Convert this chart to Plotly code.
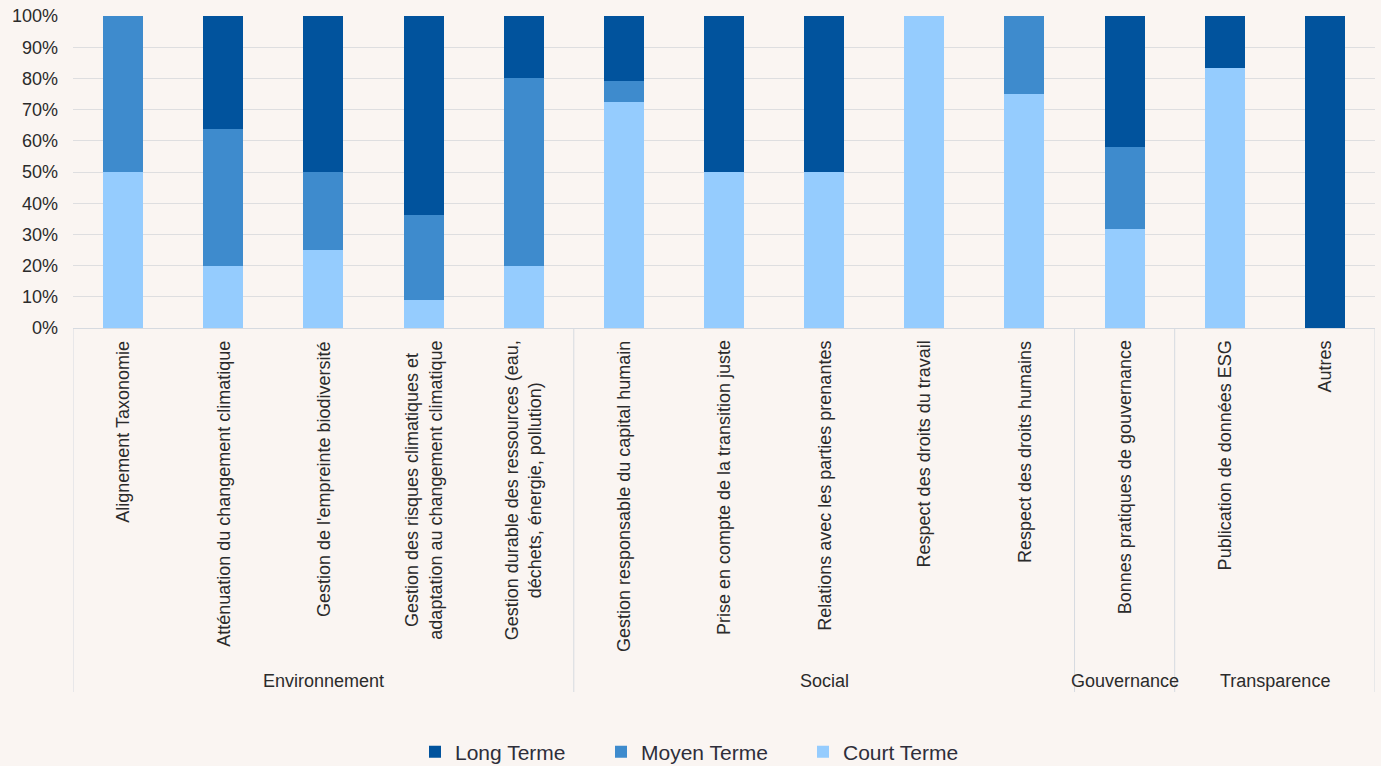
import plotly.graph_objects as go

# Categories, grouped by pillar
categories = [
    "Alignement Taxonomie",
    "Atténuation du changement climatique",
    "Gestion de l'empreinte biodiversité",
    "Gestion des risques climatiques et<br>adaptation au changement climatique",
    "Gestion durable des ressources (eau,<br>déchets, énergie, pollution)",
    "Gestion responsable du capital humain",
    "Prise en compte de la transition juste",
    "Relations avec les parties prenantes",
    "Respect des droits du travail",
    "Respect des droits humains",
    "Bonnes pratiques de gouvernance",
    "Publication de données ESG",
    "Autres",
]
groups = ["Environnement", "Social", "Gouvernance", "Transparence"]
group_sizes = [5, 5, 1, 2]

# Share of answers per horizon (%)
court_terme = [50, 20, 25, 9.09, 20, 72.41, 50, 50, 100, 75, 31.58, 83.33, 0]
moyen_terme = [50, 43.64, 25, 27.27, 60, 6.90, 0, 0, 0, 25, 26.32, 0, 0]
long_terme = [0, 36.36, 50, 63.64, 20, 20.69, 50, 50, 0, 0, 42.11, 16.67, 100]

series = [
    ("Court Terme", court_terme, "#95CCFE", "legend3"),
    ("Moyen Terme", moyen_terme, "#3E8BCD", "legend2"),
    ("Long Terme", long_terme, "#01539D", "legend"),
]

BG = "#FAF5F2"
TXT = "#2B2B2B"
LINE = "#D6DAE0"
FONT = "Liberation Sans, Arial, sans-serif"

x_idx = list(range(len(categories)))

fig = go.Figure()
for name, vals, color, leg in series:
    fig.add_trace(go.Bar(
        x=x_idx, y=vals, name=name, legend=leg, showlegend=True,
        marker=dict(color=color, line=dict(width=0)),
        hovertemplate="%{y:.1f}%<extra>" + name + "</extra>",
    ))

# Rotated category labels under each bar
annotations = []
for i, lab in enumerate(categories):
    annotations.append(dict(
        x=i, xref="x", y=-0.034, yref="paper",
        text=lab, textangle=-90, showarrow=False,
        xanchor="center", yanchor="top", align="center",
        font=dict(family=FONT, size=18, color=TXT),
    ))

# Group labels and dividers
shapes = []
start = 0
bounds = [-0.5]
for g, n in zip(groups, group_sizes):
    mid = start + (n - 1) / 2
    annotations.append(dict(
        x=mid, xref="x", y=-1.131, yref="paper",
        text=g, showarrow=False, xanchor="center", yanchor="middle",
        font=dict(family=FONT, size=18, color=TXT),
    ))
    start += n
    bounds.append(start - 0.5)
for b in bounds:
    shapes.append(dict(
        type="line", xref="x", yref="paper", x0=b, x1=b, y0=0, y1=-1.1667,
        line=dict(color=LINE, width=1), layer="below",
    ))

legend_common = dict(
    orientation="h", xref="container", yref="container",
    yanchor="middle", y=0.018, xanchor="left",
    font=dict(family=FONT, size=21, color="#2E2E3A"),
    bgcolor="rgba(0,0,0,0)", visible=True,
)

fig.update_layout(
    barmode="stack",
    bargap=0.6,
    showlegend=True,
    width=1381, height=766,
    margin=dict(l=73, r=6, t=16, b=438),
    paper_bgcolor=BG, plot_bgcolor=BG,
    font=dict(family=FONT, size=18, color=TXT),
    xaxis=dict(
        range=[-0.5, 12.5], showticklabels=False, showgrid=False,
        zeroline=False, showline=True, linecolor=LINE, linewidth=1,
        ticks="", fixedrange=True,
    ),
    yaxis=dict(
        range=[0, 100], dtick=10, ticksuffix="%", showgrid=True,
        gridcolor="#DEDEE0", gridwidth=1, zeroline=False, showline=False,
        ticks="", ticklabelstandoff=14,
        tickfont=dict(family=FONT, size=18, color=TXT),
    ),
    legend=dict(x=415 / 1381, **legend_common),
    legend2=dict(x=601 / 1381, **legend_common),
    legend3=dict(x=803 / 1381, **legend_common),
    annotations=annotations,
    shapes=shapes,
)

fig.write_html("out.html")
